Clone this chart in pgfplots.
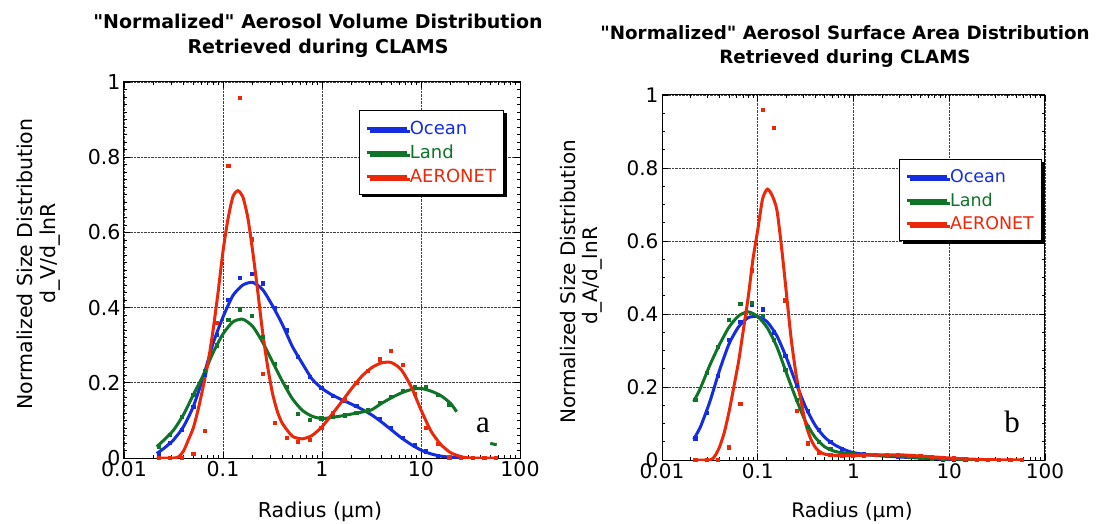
\documentclass[border=0pt]{standalone}
\usepackage{fontspec}
\setmainfont{DejaVu Sans}
\newfontfamily\nfont{DejaVu Sans}
\newfontfamily\serifa{Liberation Serif}
\usepackage{pgfplots}
\pgfplotsset{compat=1.18}
\usetikzlibrary{shadows}
\definecolor{oc}{RGB}{20,45,225}
\definecolor{ld}{RGB}{15,115,40}
\definecolor{ar}{RGB}{235,40,10}
\pgfplotsset{
  myaxis/.style={
    scale only axis, xmin=0.01, xmax=100, ymin=0, ymax=1,
    xtick={0.01,0.1,1,10,100}, xticklabels={0.01,0.1,1,10,100},
    ytick={0,0.2,0.4,0.6,0.8,1}, yticklabels={0,0.2,0.4,0.6,0.8,1},
    tick align=inside, major tick length=6pt, minor tick length=3.5pt,
    tick style={black, line width=0.7pt},
    axis line style={line width=1pt},
    grid=major, major grid style={densely dotted, black!75, line width=0.7pt},
    /pgf/number format/assume math mode=true,
    legend cell align=left,
    legend image code/.code={\draw[line width=3pt] (0pt,0pt) -- (40pt,0pt);},
  },
  crv/.style={line width=3pt, smooth, tension=0.4, no markers},
  pts/.style={only marks, mark=square*, mark size=1.6pt, forget plot},
}
\begin{document}
\begin{tikzpicture}
\useasboundingbox (0,0) rectangle (1096pt,523pt);
% ---------------- left panel ----------------
\begin{axis}[xmode=log, myaxis, at={(124pt,65pt)}, anchor=south west, width=396pt, height=376pt,
  minor y tick num=9,
  ticklabel style={font=\fontsize{20.5}{22}\selectfont},
  legend style={at={(0.593,0.926)}, anchor=north west, draw=black, line width=1pt, fill=white,
    font=\fontsize{18}{20}\selectfont, inner xsep=6pt, inner ysep=6pt, row sep=0pt,
    nodes={inner xsep=1.5pt, inner ysep=4.5pt},
    drop shadow={shadow xshift=3pt, shadow yshift=-3pt, opacity=1, fill=black}}]
\addplot[crv, oc] coordinates {(0.0214,0.012)(0.02512,0.025)(0.03162,0.048)(0.03981,0.083)(0.05012,0.137)(0.0631,0.215)(0.07943,0.305)(0.1,0.375)(0.1259,0.432)(0.1585,0.46)(0.1995,0.467)(0.2512,0.448)(0.3162,0.405)(0.3981,0.355)(0.5012,0.297)(0.631,0.252)(0.7943,0.21)(1,0.185)(1.259,0.168)(1.585,0.155)(1.995,0.143)(2.512,0.13)(3.162,0.115)(3.981,0.096)(5.012,0.075)(6.31,0.054)(7.943,0.036)(10,0.021)(12.59,0.011)(15.85,0.005)(19.95,0.002)(26.3,0)};
\addlegendentry{\textcolor{oc}{Ocean}}
\addplot[crv, ld] coordinates {(0.0214,0.03)(0.02512,0.047)(0.03162,0.074)(0.03981,0.115)(0.05012,0.168)(0.0631,0.22)(0.07943,0.28)(0.1,0.33)(0.1259,0.362)(0.1585,0.369)(0.1995,0.35)(0.2512,0.308)(0.3162,0.256)(0.3981,0.204)(0.5012,0.158)(0.631,0.127)(0.7943,0.111)(1,0.105)(1.259,0.108)(1.585,0.112)(1.995,0.117)(2.512,0.122)(3.162,0.128)(3.981,0.145)(5.012,0.16)(6.31,0.173)(7.943,0.182)(10,0.185)(12.59,0.178)(15.85,0.166)(19.95,0.145)(22.9,0.123)};
\addlegendentry{\textcolor{ld}{Land}}
\addplot[crv, ar] coordinates {(0.0214,0)(0.03162,0)(0.03548,0.003)(0.03981,0.018)(0.04467,0.048)(0.05012,0.08)(0.05623,0.13)(0.0631,0.19)(0.07079,0.255)(0.07943,0.34)(0.08913,0.44)(0.1,0.55)(0.1122,0.635)(0.1259,0.695)(0.1413,0.711)(0.1585,0.695)(0.1778,0.64)(0.1995,0.55)(0.2239,0.445)(0.2512,0.335)(0.2818,0.245)(0.3162,0.172)(0.3548,0.123)(0.3981,0.092)(0.5012,0.058)(0.631,0.051)(0.7943,0.06)(1,0.083)(1.259,0.116)(1.585,0.15)(1.995,0.185)(2.512,0.217)(3.162,0.24)(3.981,0.253)(5.012,0.254)(6.31,0.235)(7.943,0.19)(10,0.128)(12.59,0.072)(15.85,0.036)(19.95,0.014)(25.12,0.004)(31.62,0)(58.2,0)};
\addlegendentry{\textcolor{ar}{AERONET}}
\addplot[ld, line width=3pt, forget plot] coordinates {(50.1,0.039)(58.2,0.035)};
\addplot[pts, oc] coordinates {(0.02226,0.012)(0.02917,0.04)(0.03824,0.075)(0.0501,0.137)(0.0657,0.222)(0.0861,0.327)(0.1129,0.42)(0.1479,0.48)(0.1939,0.491)(0.2541,0.465)(0.3331,0.40)(0.4365,0.34)(0.5723,0.27)(0.7499,0.216)(0.983,0.187)(1.288,0.166)(1.689,0.152)(2.213,0.14)(2.901,0.125)(3.802,0.105)(4.984,0.08)(6.531,0.055)(8.56,0.034)(11.22,0.018)(14.71,0.007)(19.28,0.002)(25.27,0)};
\addplot[pts, ld] coordinates {(0.02226,0.03)(0.02917,0.062)(0.03824,0.11)(0.0501,0.168)(0.0657,0.232)(0.0861,0.30)(0.1129,0.367)(0.1479,0.396)(0.1939,0.378)(0.2541,0.322)(0.3331,0.25)(0.4365,0.19)(0.5723,0.118)(0.7499,0.101)(0.983,0.106)(1.288,0.11)(1.689,0.114)(2.213,0.12)(2.901,0.127)(3.802,0.148)(4.984,0.164)(6.531,0.18)(8.56,0.19)(11.22,0.19)(14.71,0.168)(19.28,0.143)};
\addplot[pts, ar] coordinates {(0.02226,0)(0.02917,0)(0.03824,0)(0.0501,0.012)(0.0657,0.072)(0.0861,0.36)(0.1129,0.777)(0.1479,0.958)(0.1939,0.582)(0.2541,0.225)(0.3331,0.094)(0.4365,0.054)(0.5723,0.044)(0.7499,0.048)(0.983,0.08)(1.288,0.12)(1.689,0.155)(2.213,0.2)(2.901,0.232)(3.802,0.263)(4.984,0.285)(6.531,0.248)(8.56,0.17)(11.22,0.08)(14.71,0.037)(19.28,0.002)(25.27,0)(33.11,0)(43.4,0)(56.89,0)};
\end{axis}
% ---------------- right panel ----------------
\begin{axis}[xmode=log, myaxis, at={(662pt,63pt)}, anchor=south west, width=383pt, height=365pt,
  minor y tick num=3,
  ticklabel style={font=\fontsize{20}{22}\selectfont},
  legend style={at={(0.619,0.825)}, anchor=north west, draw=black, line width=1pt, fill=white,
    font=\fontsize{17.5}{20}\selectfont, inner xsep=6pt, inner ysep=6pt, row sep=0pt,
    nodes={inner xsep=1.5pt, inner ysep=4.3pt},
    drop shadow={shadow xshift=3pt, shadow yshift=-3pt, opacity=1, fill=black}}]
\addplot[crv, oc] coordinates {(0.0214,0.057)(0.02512,0.09)(0.03162,0.16)(0.03981,0.245)(0.05012,0.318)(0.0631,0.365)(0.07943,0.39)(0.1,0.393)(0.1259,0.378)(0.1585,0.34)(0.1995,0.28)(0.2512,0.21)(0.3162,0.145)(0.3981,0.095)(0.5012,0.062)(0.631,0.042)(0.7943,0.029)(1,0.02)(1.585,0.013)(3.162,0.008)(6.31,0.004)(12.0,0)};
\addlegendentry{\textcolor{oc}{Ocean}}
\addplot[crv, ld] coordinates {(0.0214,0.16)(0.02512,0.196)(0.03162,0.26)(0.03981,0.316)(0.05012,0.364)(0.0631,0.395)(0.07943,0.406)(0.1,0.393)(0.1259,0.362)(0.1585,0.31)(0.1995,0.238)(0.2512,0.168)(0.3162,0.105)(0.3981,0.062)(0.5012,0.036)(0.631,0.024)(0.7943,0.019)(1,0.016)(1.585,0.014)(3.162,0.01)(6.31,0.005)(12.59,0.002)(19.95,0)};
\addlegendentry{\textcolor{ld}{Land}}
\addplot[crv, ar] coordinates {(0.0214,0)(0.03162,0)(0.03548,0.01)(0.03981,0.035)(0.04467,0.075)(0.05012,0.132)(0.05623,0.2)(0.0631,0.27)(0.07079,0.357)(0.07943,0.445)(0.08913,0.55)(0.1,0.63)(0.1122,0.715)(0.1259,0.742)(0.1413,0.725)(0.1585,0.685)(0.1778,0.58)(0.1995,0.455)(0.2239,0.33)(0.2512,0.235)(0.2818,0.165)(0.3162,0.1)(0.3548,0.06)(0.3981,0.035)(0.4467,0.022)(0.5012,0.016)(0.631,0.013)(1,0.012)(1.585,0.014)(3.162,0.014)(6.31,0.009)(12.59,0.004)(25.12,0.001)(58.2,0)};
\addlegendentry{\textcolor{ar}{AERONET}}
\addplot[pts, oc] coordinates {(0.02226,0.06)(0.02917,0.13)(0.03824,0.23)(0.0501,0.33)(0.0657,0.379)(0.0861,0.425)(0.1129,0.413)(0.1479,0.35)(0.1939,0.285)(0.2541,0.205)(0.3331,0.135)(0.4365,0.082)(0.5723,0.05)(0.7499,0.032)(0.983,0.021)(1.288,0.017)(1.689,0.014)(2.213,0.012)(2.901,0.01)(3.802,0.008)(4.984,0.006)(6.531,0.004)(8.56,0.002)(11.22,0.001)(14.71,0)};
\addplot[pts, ld] coordinates {(0.02226,0.165)(0.02917,0.24)(0.03824,0.31)(0.0501,0.385)(0.0657,0.429)(0.0861,0.432)(0.1129,0.395)(0.1479,0.33)(0.1939,0.247)(0.2541,0.165)(0.3331,0.091)(0.4365,0.05)(0.5723,0.03)(0.7499,0.02)(0.983,0.016)(1.288,0.015)(1.689,0.014)(2.213,0.013)(2.901,0.011)(3.802,0.009)(4.984,0.007)(6.531,0.005)(8.56,0.004)(11.22,0.003)(14.71,0.002)(19.28,0)};
\addplot[pts, ar] coordinates {(0.02226,0)(0.02917,0)(0.03824,0)(0.0501,0.035)(0.0657,0.155)(0.0861,0.52)(0.1129,0.959)(0.1479,0.911)(0.1939,0.438)(0.2541,0.135)(0.3331,0.046)(0.4365,0.02)(0.5723,0.014)(0.7499,0.012)(0.983,0.012)(1.288,0.013)(1.689,0.014)(2.213,0.014)(2.901,0.014)(3.802,0.012)(4.984,0.011)(6.531,0.009)(8.56,0.007)(11.22,0.005)(14.71,0.003)(19.28,0.001)(25.27,0)(33.11,0)(43.4,0)(56.89,0)};
\end{axis}
% ---------------- texts ----------------
\node[anchor=base, font=\nfont\bfseries\fontsize{19}{23}\selectfont] at (318pt,494pt) {"Normalized" Aerosol Volume Distribution};
\node[anchor=base, font=\nfont\bfseries\fontsize{19}{23}\selectfont] at (318pt,469pt) {Retrieved during CLAMS};
\node[anchor=base, font=\nfont\bfseries\fontsize{18.3}{22}\selectfont] at (845pt,483pt) {"Normalized" Aerosol Surface Area Distribution};
\node[anchor=base, font=\nfont\bfseries\fontsize{18.3}{22}\selectfont] at (845pt,459pt) {Retrieved during CLAMS};
\node[rotate=90, anchor=base, font=\fontsize{20.5}{24}\selectfont] at (32pt,259pt) {Normalized Size Distribution};
\node[rotate=90, anchor=base, font=\fontsize{20.5}{24}\selectfont] at (56pt,270pt) {d\_V/d\_lnR};
\node[rotate=90, anchor=base, font=\fontsize{20}{24}\selectfont] at (575pt,241pt) {Normalized Size Distribution};
\node[rotate=90, anchor=base, font=\fontsize{20}{24}\selectfont] at (597pt,247pt) {d\_A/d\_lnR};
\node[anchor=base, font=\fontsize{20.5}{24}\selectfont] at (320pt,6pt) {Radius (μm)};
\node[anchor=base, font=\fontsize{20}{24}\selectfont] at (852pt,6pt) {Radius (μm)};
\node[font=\serifa\fontsize{31}{31}\selectfont] at (483pt,98pt) {a};
\node[font=\serifa\fontsize{31}{31}\selectfont] at (1012pt,101pt) {b};
\end{tikzpicture}
\end{document}
